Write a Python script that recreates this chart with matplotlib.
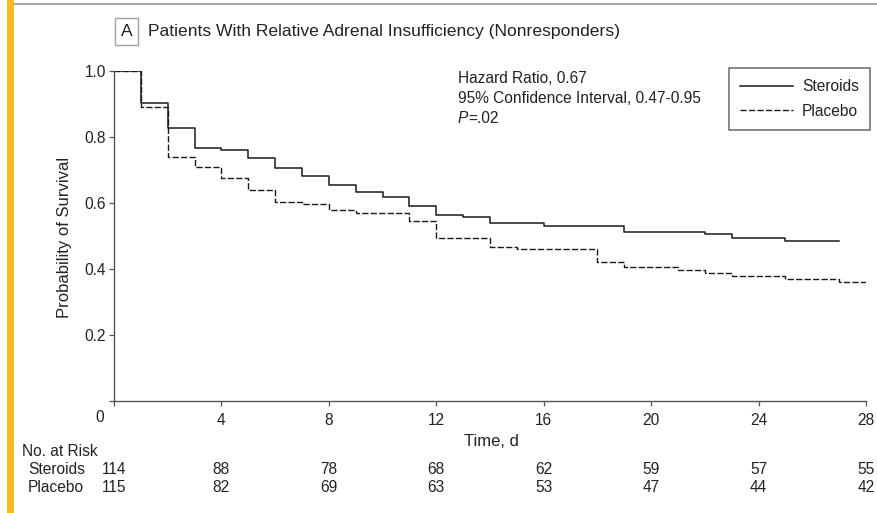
import matplotlib
matplotlib.use("Agg")
import matplotlib.pyplot as plt
from matplotlib.patches import Rectangle
from matplotlib.lines import Line2D
import matplotlib.transforms as mtransforms

plt.rcParams['font.family'] = ['Liberation Sans', 'DejaVu Sans']

# Kaplan-Meier step data (time in days, survival probability)
steroid_t = [0, 1, 2, 3, 4, 5, 6, 7, 8, 9, 10, 11, 12, 13, 14, 16, 19, 22, 23, 25, 27]
steroid_s = [1.0, 0.902, 0.828, 0.766, 0.761, 0.735, 0.707, 0.683, 0.655, 0.634, 0.617,
             0.592, 0.565, 0.559, 0.540, 0.531, 0.512, 0.506, 0.495, 0.486, 0.486]
placebo_t = [0, 1, 2, 3, 4, 5, 6, 7, 8, 9, 11, 12, 14, 15, 18, 19, 21, 22, 23, 25, 27, 28]
placebo_s = [1.0, 0.892, 0.738, 0.710, 0.677, 0.639, 0.604, 0.596, 0.579, 0.571, 0.545,
             0.493, 0.468, 0.460, 0.422, 0.406, 0.397, 0.389, 0.379, 0.369, 0.362, 0.362]

# numbers at risk
risk_days = [0, 4, 8, 12, 16, 20, 24, 28]
risk_steroids = [114, 88, 78, 68, 62, 59, 57, 55]
risk_placebo = [115, 82, 69, 63, 53, 47, 44, 42]

x_ticks = [4, 8, 12, 16, 20, 24, 28]
y_ticks = [0.2, 0.4, 0.6, 0.8, 1.0]

W, H = 877, 513
TXT = '#222222'
AXC = '#555555'
FS = 11.2

fig = plt.figure(figsize=(W / 100, H / 100), dpi=100)
fig.patch.set_facecolor('white')


def fx(px):
    return px / W


def fy(py):
    return 1 - py / H


ax = fig.add_axes([fx(114), fy(401), fx(866) - fx(114), fy(71) - fy(401)])
ax.step(steroid_t, steroid_s, where='post', color='#1a1a1a', lw=1.1, label='Steroids')
ax.step(placebo_t, placebo_s, where='post', color='#1a1a1a', lw=1.0,
        linestyle=(0, (4.5, 1.6)), label='Placebo')

ax.set_xlim(0, 28)
ax.set_ylim(0, 1.0)
for s in ['top', 'right']:
    ax.spines[s].set_visible(False)
for s in ['left', 'bottom']:
    ax.spines[s].set_color(AXC)
    ax.spines[s].set_linewidth(1.0)

ax.set_xticks([0] + x_ticks)
ax.set_xticklabels([''] + [str(t) for t in x_ticks])
ax.set_yticks([0] + y_ticks)
ax.set_yticklabels([''] + ['%.1f' % v for v in y_ticks])
ax.tick_params(axis='both', direction='out', length=3.5, width=0.9, color=AXC,
               labelsize=FS, labelcolor=TXT)
ax.tick_params(axis='x', pad=5)
ax.tick_params(axis='y', pad=2)

fig.text(fx(100), fy(418), '0', ha='center', va='center', fontsize=FS, color=TXT)
fig.text(fx(491), fy(441), 'Time, d', ha='center', va='center', fontsize=12, color=TXT)
fig.text(fx(64), fy(237), 'Probability of Survival', ha='center', va='center',
         rotation=90, fontsize=12, color=TXT)

# panel title with boxed letter
fig.text(fx(126.5), fy(31.5), 'A', ha='center', va='center', fontsize=12.5, color=TXT,
         bbox=dict(boxstyle='square,pad=0.33', fc='white', ec='#a0a0a0', lw=1.0))
fig.text(fx(148), fy(31.5), 'Patients With Relative Adrenal Insufficiency (Nonresponders)',
         ha='left', va='center', fontsize=12.6, color=TXT)

# statistics
fig.text(fx(458), fy(79), 'Hazard Ratio, 0.67', ha='left', va='center', fontsize=FS, color=TXT)
fig.text(fx(458), fy(99), '95% Confidence Interval, 0.47-0.95', ha='left', va='center',
         fontsize=FS, color=TXT)
fig.text(fx(458), fy(119), 'P', ha='left', va='center', fontsize=FS, color=TXT, style='italic')
fig.text(fx(468), fy(119), '=.02', ha='left', va='center', fontsize=FS, color=TXT)

leg = fig.legend(loc='upper right', bbox_to_anchor=(fx(870), fy(68)), frameon=True,
                 fancybox=False, fontsize=FS, handlelength=3.4, handletextpad=0.6,
                 labelspacing=0.6, borderpad=0.72, borderaxespad=0, labelcolor=TXT)
leg.get_frame().set_edgecolor('#444444')
leg.get_frame().set_linewidth(1.1)

# number at risk table
xform = mtransforms.blended_transform_factory(ax.transData, fig.transFigure)
fig.text(fx(22), fy(451), 'No. at Risk', ha='left', va='center', fontsize=FS, color=TXT)
fig.text(fx(28), fy(470), 'Steroids', ha='left', va='center', fontsize=FS, color=TXT)
fig.text(fx(28), fy(488), 'Placebo', ha='left', va='center', fontsize=FS, color=TXT)
for d, a, b in zip(risk_days, risk_steroids, risk_placebo):
    ax.text(d, fy(470), str(a), transform=xform, ha='center', va='center',
            fontsize=FS, color=TXT, clip_on=False)
    ax.text(d, fy(488), str(b), transform=xform, ha='center', va='center',
            fontsize=FS, color=TXT, clip_on=False)

# page decoration: side bar and top rule
fig.add_artist(Rectangle((fx(7), 0), fx(7), 1, transform=fig.transFigure,
                         color='#f6bd1f', lw=0))
fig.add_artist(Line2D([fx(14), 1], [fy(4), fy(4)], transform=fig.transFigure,
                      color='#9a9a9a', lw=1.2))

fig.savefig('out.png', dpi=100)
